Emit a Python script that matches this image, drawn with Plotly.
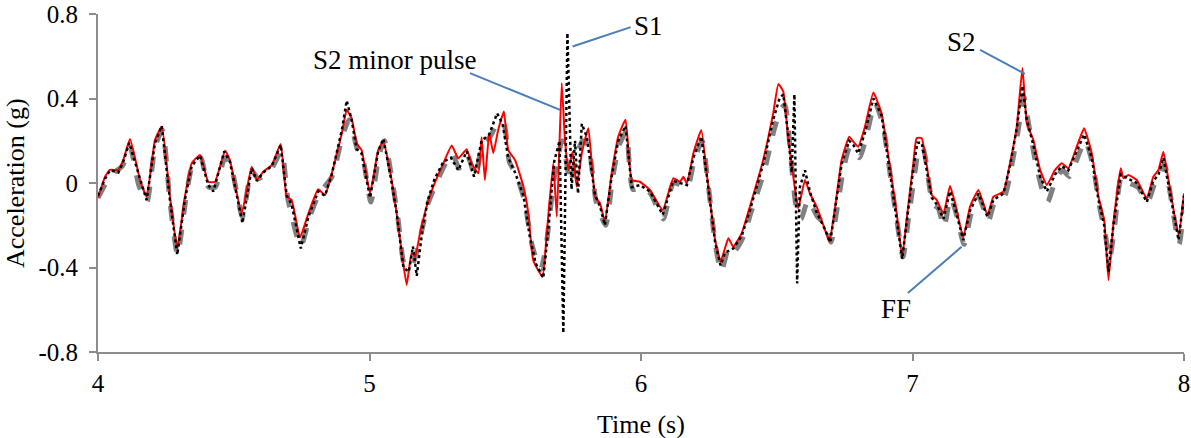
import plotly.graph_objects as go

# ---- S2 (red, solid) ----
t_s2 = [4.000, 4.026, 4.044, 4.075, 4.093, 4.118, 4.155, 4.179, 4.210, 4.235, 4.265, 4.292, 4.320, 4.345,
        4.376, 4.406, 4.431, 4.468, 4.486, 4.529, 4.566, 4.585, 4.609, 4.640, 4.673, 4.695, 4.713, 4.744,
        4.775, 4.811, 4.836, 4.861, 4.898, 4.916, 4.934, 4.953, 4.971, 5.002, 5.032, 5.051, 5.075, 5.100,
        5.119, 5.137, 5.155, 5.168, 5.186, 5.210, 5.235, 5.272, 5.303, 5.327, 5.358, 5.376, 5.401, 5.413,
        5.425, 5.441, 5.456, 5.474, 5.495, 5.511, 5.536, 5.567, 5.585, 5.603, 5.637, 5.653, 5.677, 5.690,
        5.708, 5.720, 5.732, 5.748, 5.763, 5.782, 5.806, 5.831, 5.849, 5.867, 5.892, 5.916, 5.943, 5.966,
        5.996, 6.033, 6.080, 6.119, 6.144, 6.156, 6.169, 6.193, 6.222, 6.242, 6.254, 6.273, 6.293, 6.309,
        6.322, 6.340, 6.371, 6.401, 6.450, 6.487, 6.506, 6.524, 6.543, 6.561, 6.579, 6.604, 6.622, 6.647,
        6.678, 6.694, 6.715, 6.739, 6.767, 6.782, 6.800, 6.825, 6.856, 6.886, 6.917, 6.942, 6.962, 6.981,
        7.003, 7.015, 7.034, 7.071, 7.089, 7.114, 7.138, 7.157, 7.187, 7.212, 7.243, 7.276, 7.298, 7.335,
        7.359, 7.384, 7.405, 7.421, 7.445, 7.470, 7.495, 7.525, 7.550, 7.574, 7.605, 7.632, 7.660, 7.685,
        7.706, 7.722, 7.740, 7.767, 7.777, 7.795, 7.826, 7.863, 7.887, 7.906, 7.924, 7.943, 7.980, 8.000]
a_s2 = [-0.071, 0.030, 0.062, 0.062, 0.109, 0.208, 0.014, -0.065, 0.204, 0.267, -0.065, -0.310, -0.065, 0.093,
        0.133, 0.006, 0.006, 0.153, 0.109, -0.144, 0.077, 0.014, 0.054, 0.085, 0.185, -0.065, -0.080, -0.257,
        -0.144, -0.030, -0.057, 0.046, 0.235, 0.346, 0.307, 0.188, 0.156, -0.049, 0.156, 0.196, 0.062, -0.144,
        -0.332, -0.483, -0.332, -0.349, -0.238, -0.112, -0.017, 0.093, 0.177, 0.117, 0.160, 0.093, 0.046, 0.217,
        0.014, 0.235, 0.141, 0.251, 0.338, 0.156, 0.109, -0.017, -0.144, -0.365, -0.444, -0.238, 0.093, -0.160,
        0.473, 0.204, 0.062, 0.148, -0.017, 0.141, 0.259, -0.065, -0.096, -0.183, 0.046, 0.219, 0.299, 0.014,
        0.006, -0.033, -0.128, 0.022, 0.006, 0.030, -0.002, 0.141, 0.251, 0.046, -0.080, -0.270, -0.373, -0.310,
        -0.262, -0.302, -0.238, -0.112, 0.109, 0.330, 0.469, 0.433, 0.204, 0.030, -0.120, 0.014, -0.049, -0.112,
        -0.223, -0.278, -0.112, 0.109, 0.219, 0.196, 0.172, 0.267, 0.428, 0.330, 0.077, -0.144, -0.349, -0.144,
        0.093, 0.212, 0.212, -0.057, -0.080, -0.144, -0.014, -0.096, -0.257, -0.112, -0.033, -0.152, -0.065, -0.041,
        0.093, 0.267, 0.544, 0.283, 0.204, 0.062, -0.009, 0.062, 0.093, 0.070, 0.172, 0.259, 0.141, -0.065,
        -0.175, -0.460, -0.191, 0.070, 0.022, 0.038, 0.014, -0.073, 0.030, 0.062, 0.148, 0.014, -0.246, -0.049]

# ---- S1 (black, dotted) ----
t_s1 = [4.000, 4.026, 4.044, 4.075, 4.093, 4.115, 4.155, 4.179, 4.210, 4.235, 4.265, 4.292, 4.320, 4.345,
        4.376, 4.406, 4.425, 4.465, 4.486, 4.532, 4.566, 4.585, 4.609, 4.640, 4.673, 4.695, 4.713, 4.747,
        4.775, 4.811, 4.836, 4.861, 4.898, 4.916, 4.934, 4.953, 4.971, 5.002, 5.032, 5.051, 5.075, 5.100,
        5.125, 5.145, 5.160, 5.174, 5.195, 5.215, 5.240, 5.272, 5.300, 5.327, 5.358, 5.385, 5.413, 5.441,
        5.470, 5.490, 5.511, 5.536, 5.567, 5.590, 5.612, 5.640, 5.660, 5.680, 5.700, 5.714, 5.729, 5.744,
        5.757, 5.768, 5.782, 5.800, 5.831, 5.849, 5.867, 5.892, 5.916, 5.943, 5.966, 5.996, 6.033, 6.080,
        6.119, 6.144, 6.169, 6.193, 6.222, 6.242, 6.254, 6.273, 6.293, 6.309, 6.340, 6.371, 6.401, 6.450,
        6.487, 6.510, 6.524, 6.543, 6.555, 6.565, 6.575, 6.585, 6.604, 6.622, 6.647, 6.678, 6.697, 6.715,
        6.739, 6.767, 6.782, 6.800, 6.825, 6.856, 6.886, 6.917, 6.942, 6.962, 6.981, 7.003, 7.018, 7.034,
        7.071, 7.089, 7.114, 7.138, 7.157, 7.187, 7.212, 7.243, 7.276, 7.298, 7.335, 7.359, 7.384, 7.405,
        7.421, 7.445, 7.470, 7.495, 7.525, 7.550, 7.574, 7.605, 7.632, 7.660, 7.685, 7.706, 7.722, 7.740,
        7.767, 7.795, 7.826, 7.863, 7.887, 7.906, 7.924, 7.943, 7.980, 8.000]
a_s1 = [-0.06, 0.02, 0.06, 0.05, 0.10, 0.19, 0.02, -0.08, 0.19, 0.27, -0.08, -0.34, -0.08, 0.08,
        0.13, -0.01, -0.04, 0.15, 0.10, -0.19, 0.07, 0.01, 0.05, 0.08, 0.18, -0.06, -0.10, -0.31,
        -0.16, -0.04, -0.06, 0.04, 0.25, 0.39, 0.30, 0.16, 0.14, -0.07, 0.15, 0.21, 0.05, -0.14,
        -0.40, -0.42, -0.30, -0.44, -0.22, -0.08, 0.02, 0.10, 0.12, 0.06, 0.15, 0.03, 0.20, 0.23,
        0.33, 0.28, 0.12, 0.05, -0.06, -0.25, -0.38, -0.45, -0.20, 0.10, 0.20, -0.71, 0.71, -0.03,
        0.20, -0.05, 0.28, 0.22, -0.06, -0.11, -0.20, 0.03, 0.20, 0.27, -0.02, -0.01, -0.04, -0.15,
        0.01, 0.00, -0.01, 0.12, 0.22, 0.04, -0.09, -0.28, -0.39, -0.33, -0.31, -0.25, -0.13, 0.09,
        0.30, 0.40, 0.42, 0.22, 0.05, 0.42, -0.475, -0.02, 0.06, -0.04, -0.14, -0.22, -0.28, -0.13,
        0.09, 0.20, 0.18, 0.14, 0.24, 0.40, 0.32, 0.05, -0.17, -0.36, -0.16, 0.07, 0.19, 0.19,
        -0.07, -0.10, -0.17, -0.04, -0.12, -0.27, -0.13, -0.05, -0.16, -0.08, -0.05, 0.08, 0.26, 0.46,
        0.30, 0.18, 0.03, -0.04, 0.04, 0.08, 0.06, 0.15, 0.23, 0.12, -0.08, -0.20, -0.42, -0.20,
        0.04, 0.02, 0.00, -0.09, 0.01, 0.04, 0.12, -0.01, -0.27, -0.06]

# ---- FF (grey, dashed) ----
t_ff = [4.000, 4.030, 4.060, 4.090, 4.118, 4.150, 4.180, 4.210, 4.237, 4.265, 4.293, 4.322, 4.347, 4.378,
        4.408, 4.432, 4.468, 4.490, 4.532, 4.566, 4.590, 4.640, 4.676, 4.700, 4.747, 4.780, 4.815, 4.862,
        4.900, 4.925, 4.955, 4.975, 5.005, 5.035, 5.055, 5.080, 5.105, 5.132, 5.160, 5.190, 5.215, 5.240,
        5.275, 5.305, 5.330, 5.360, 5.390, 5.415, 5.445, 5.475, 5.495, 5.515, 5.540, 5.570, 5.600, 5.630,
        5.650, 5.680, 5.710, 5.740, 5.760, 5.785, 5.805, 5.835, 5.870, 5.895, 5.920, 5.945, 5.970, 6.000,
        6.035, 6.082, 6.120, 6.170, 6.195, 6.225, 6.245, 6.275, 6.296, 6.325, 6.345, 6.375, 6.405, 6.455,
        6.490, 6.515, 6.530, 6.550, 6.570, 6.590, 6.615, 6.650, 6.680, 6.700, 6.720, 6.745, 6.770, 6.805,
        6.830, 6.862, 6.890, 6.920, 6.945, 6.965, 6.985, 7.010, 7.025, 7.040, 7.075, 7.095, 7.116, 7.140,
        7.160, 7.190, 7.215, 7.245, 7.280, 7.300, 7.340, 7.362, 7.388, 7.410, 7.425, 7.450, 7.475, 7.498,
        7.528, 7.553, 7.578, 7.608, 7.636, 7.665, 7.690, 7.710, 7.726, 7.745, 7.770, 7.800, 7.830, 7.866,
        7.890, 7.910, 7.928, 7.948, 7.982, 8.000]
a_ff = [-0.07, 0.00, 0.05, 0.08, 0.17, -0.01, -0.09, 0.17, 0.25, -0.09, -0.34, -0.09, 0.08, 0.12,
        -0.02, -0.02, 0.12, 0.08, -0.16, 0.06, 0.02, 0.07, 0.15, -0.08, -0.30, -0.16, -0.05, 0.03,
        0.22, 0.30, 0.16, 0.12, -0.09, 0.13, 0.20, 0.04, -0.17, -0.40, -0.38, -0.24, -0.10, -0.02,
        0.08, 0.14, 0.07, 0.13, 0.03, 0.18, 0.22, 0.29, 0.28, 0.10, 0.04, -0.08, -0.30, -0.41,
        -0.30, 0.02, 0.20, 0.00, 0.12, 0.20, 0.18, -0.09, -0.20, 0.02, 0.18, 0.24, -0.03, -0.02,
        -0.05, -0.17, 0.00, -0.02, 0.10, 0.20, 0.02, -0.30, -0.42, -0.30, -0.32, -0.26, -0.14, 0.06,
        0.25, 0.35, 0.37, 0.15, -0.10, -0.17, -0.08, -0.16, -0.20, -0.28, -0.14, 0.06, 0.17, 0.12,
        0.22, 0.38, 0.28, 0.02, -0.20, -0.35, -0.17, 0.06, 0.17, 0.16, -0.10, -0.12, -0.21, -0.07,
        -0.14, -0.29, -0.15, -0.07, -0.18, -0.10, -0.06, 0.06, 0.24, 0.41, 0.30, 0.12, -0.02, -0.09,
        0.02, 0.06, 0.03, 0.12, 0.20, 0.08, -0.12, -0.24, -0.36, -0.20, 0.03, 0.00, -0.02, -0.09,
        -0.01, 0.03, 0.09, -0.04, -0.29, -0.10]

# ---- Axis ticks ----
x_ticks = [4, 5, 6, 7, 8]
x_tick_labels = ["4", "5", "6", "7", "8"]
y_ticks = [-0.8, -0.4, 0, 0.4, 0.8]
y_tick_labels = ["-0.8", "-0.4", "0", "0.4", "0.8"]
x_title = "Time (s)"
y_title = "Acceleration (g)"

# ---- Callout labels: text, text position, leader line start/end ----
labels = ["S2 minor pulse", "S1", "S2", "FF"]
label_t = [5.094, 6.026, 7.182, 6.939]
label_a = [0.583, 0.744, 0.668, -0.597]
lead_t0 = [5.370, 5.748, 7.249, 6.983]
lead_a0 = [0.520, 0.646, 0.630, -0.521]
lead_t1 = [5.702, 5.962, 7.414, 7.181]
lead_a1 = [0.346, 0.738, 0.517, -0.302]

FONT = "Liberation Serif, Times New Roman, serif"
AXIS_COLOR = "#8c8c8c"
LEAD_COLOR = "#4a7ebb"

fig = go.Figure()
fig.add_trace(go.Scatter(x=t_ff, y=a_ff, mode="lines", name="FF",
                         line=dict(color="#808080", width=5, dash="dash", shape="spline", smoothing=0.6)))
fig.add_trace(go.Scatter(x=t_s2, y=a_s2, mode="lines", name="S2",
                         line=dict(color="#ff0000", width=2, shape="spline", smoothing=0.4)))
fig.add_trace(go.Scatter(x=t_s1, y=a_s1, mode="lines", name="S1",
                         line=dict(color="#000000", width=2.5, dash="dot")))

for i in range(len(labels)):
    fig.add_shape(type="line", xref="x", yref="y",
                  x0=lead_t0[i], y0=lead_a0[i], x1=lead_t1[i], y1=lead_a1[i],
                  line=dict(color=LEAD_COLOR, width=2))
    fig.add_annotation(x=label_t[i], y=label_a[i], xref="x", yref="y", text=labels[i],
                       showarrow=False, font=dict(family=FONT, size=27, color="black"))

# axis titles placed as annotations for exact positioning
fig.add_annotation(x=0.5, y=0, xref="paper", yref="paper", yshift=-72, text=x_title,
                   showarrow=False, yanchor="middle",
                   font=dict(family=FONT, size=26, color="black"))
fig.add_annotation(x=0, y=0.5, xref="paper", yref="paper", xshift=-83, text=y_title,
                   showarrow=False, textangle=-90, xanchor="center", yanchor="middle",
                   font=dict(family=FONT, size=26, color="black"))

fig.update_layout(
    width=1191, height=438,
    margin=dict(l=98, r=7, t=14, b=86),
    paper_bgcolor="white", plot_bgcolor="white",
    showlegend=False,
    font=dict(family=FONT, color="black", size=24),
)
fig.update_xaxes(range=[4, 8], tickvals=x_ticks, ticktext=x_tick_labels, automargin=False,
                 showgrid=False, zeroline=False, showline=True, linecolor=AXIS_COLOR, linewidth=2,
                 ticks="outside", ticklen=7, tickwidth=2, tickcolor=AXIS_COLOR,
                 tickfont=dict(family=FONT, size=25), ticklabelstandoff=1)
fig.update_yaxes(range=[-0.8, 0.8], tickvals=y_ticks, ticktext=y_tick_labels, automargin=False,
                 showgrid=False, zeroline=False, showline=True, linecolor=AXIS_COLOR, linewidth=2,
                 ticks="outside", ticklen=7, tickwidth=2, tickcolor=AXIS_COLOR,
                 tickfont=dict(family=FONT, size=25), ticklabelstandoff=6)

# remove the default page margin so the figure fills the window exactly
fig.write_html("out.html", config={"displayModeBar": False},
               post_script="document.body.style.margin='0';document.body.style.overflow='hidden';")
